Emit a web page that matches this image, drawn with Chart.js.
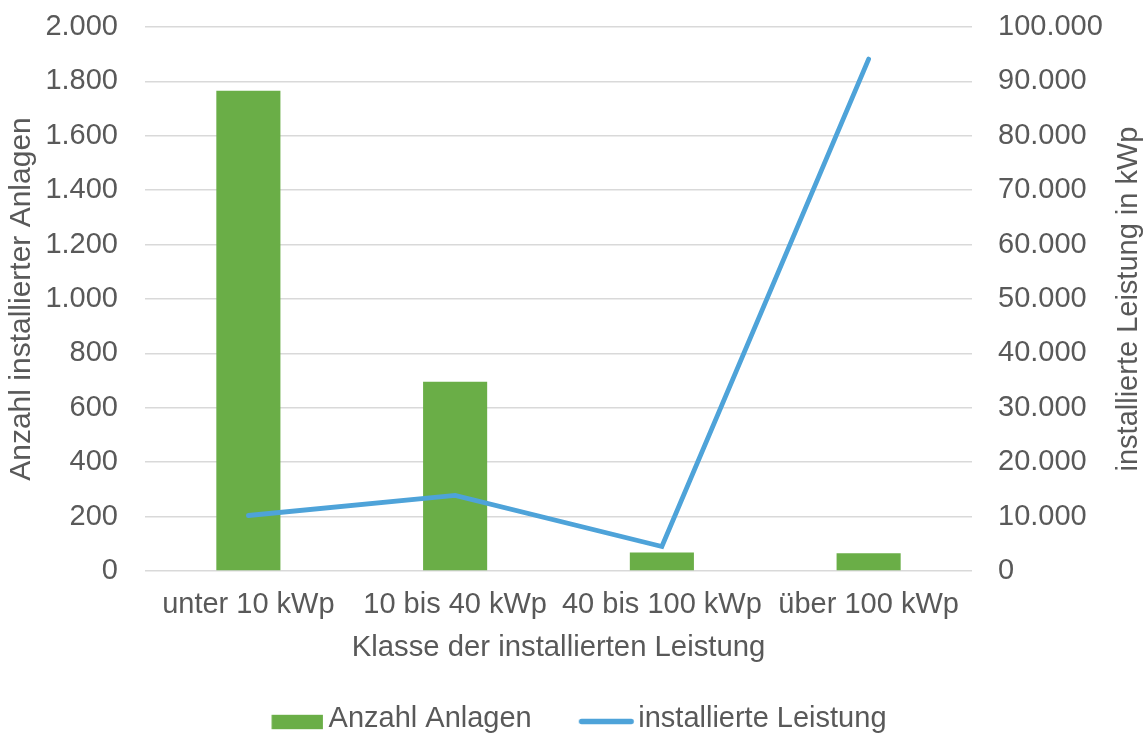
<!DOCTYPE html>
<html>
<head>
<meta charset="utf-8">
<script src="https://cdn.jsdelivr.net/npm/chart.js@4/dist/chart.umd.min.js"></script>
<style>
  html, body { margin: 0; padding: 0; background: #ffffff; }
  #wrap { width: 1147px; height: 734px; position: relative; }
</style>
</head>
<body>
<div id="wrap"><canvas id="c" width="1147" height="734"></canvas></div>
<script>
const categories = ['unter 10 kWp', '10 bis 40 kWp', '40 bis 100 kWp', 'über 100 kWp'];
const anzahlAnlagen = [1766, 696, 68, 65];
const installierteLeistung = [10200, 13900, 4500, 94100];
const leftTicks = [0, 200, 400, 600, 800, 1000, 1200, 1400, 1600, 1800, 2000];
const rightTicks = [0, 10000, 20000, 30000, 40000, 50000, 60000, 70000, 80000, 90000, 100000];

const TEXT = '#595959';
const FONT = 'Liberation Sans';
const FS = 29;
const GREEN = '#6aae47';
const BLUE = '#4ea3d9';

function fmt(v) {
  return String(Math.round(v)).replace(/\B(?=(\d{3})+(?!\d))/g, '.');
}

// legend symbols (drawn by Chart.js legend as point styles)
function barSymbol() {
  const c = document.createElement('canvas');
  c.width = 58; c.height = 22;
  const g = c.getContext('2d');
  g.fillStyle = GREEN;
  g.fillRect(6.5, 6.8, 51.4, 14.4);
  return c;
}
function lineSymbol() {
  const c = document.createElement('canvas');
  c.width = 62; c.height = 22;
  const g = c.getContext('2d');
  g.strokeStyle = BLUE;
  g.lineWidth = 5.3;
  g.lineCap = 'round';
  g.beginPath();
  g.moveTo(6.1 + 2.65, 13.5);
  g.lineTo(61.1 - 2.65, 13.5);
  g.stroke();
  return c;
}

const rightTitlePlugin = {
  id: 'rightTitle',
  afterDraw(chart) {
    const ctx = chart.ctx;
    const area = chart.chartArea;
    ctx.save();
    ctx.translate(1129, (area.top + area.bottom) / 2);
    ctx.rotate(-Math.PI / 2);
    ctx.font = FS + 'px "' + FONT + '"';
    ctx.fillStyle = TEXT;
    ctx.textAlign = 'center';
    ctx.textBaseline = 'middle';
    ctx.fillText('installierte Leistung in kWp', 0, 0);
    ctx.restore();
  }
};

function noVPad(scale) {
  scale.paddingTop = 0;
  scale.paddingBottom = 0;
}

new Chart(document.getElementById('c'), {
  data: {
    labels: categories,
    datasets: [
      {
        type: 'bar',
        label: 'Anzahl Anlagen',
        data: anzahlAnlagen,
        backgroundColor: GREEN,
        borderWidth: 0,
        yAxisID: 'y',
        order: 1,
        categoryPercentage: 1,
        barPercentage: 0.31,
        pointStyle: barSymbol()
      },
      {
        type: 'line',
        label: 'installierte Leistung',
        data: installierteLeistung,
        borderColor: BLUE,
        backgroundColor: BLUE,
        borderWidth: 4.8,
        pointRadius: 0,
        pointHoverRadius: 0,
        borderJoinStyle: 'miter',
        borderCapStyle: 'round',
        tension: 0,
        yAxisID: 'y1',
        order: 0,
        pointStyle: lineSymbol()
      }
    ]
  },
  options: {
    responsive: false,
    animation: false,
    devicePixelRatio: 1,
    layout: { padding: { top: 27, left: 0, right: -13.6, bottom: -9.5 } },
    plugins: {
      tooltip: { enabled: false },
      legend: {
        position: 'bottom',
        labels: {
          usePointStyle: true,
          pointStyleWidth: 40,
          boxWidth: 40,
          boxHeight: 16,
          padding: 52,
          color: TEXT,
          font: { family: FONT, size: FS },
          sort: (a, b) => a.datasetIndex - b.datasetIndex
        }
      }
    },
    scales: {
      x: {
        grid: { display: false },
        border: { display: false },
        ticks: { color: TEXT, font: { family: FONT, size: FS }, padding: 8.5, maxRotation: 0, autoSkip: false },
        title: { display: true, text: 'Klasse der installierten Leistung', color: TEXT, font: { family: FONT, size: 29.3 }, padding: { top: 4, bottom: -12.5 } },
        afterFit(scale) { scale.height = 81.5; scale.paddingLeft = 0; scale.paddingRight = 0; }
      },
      y: {
        position: 'left',
        min: 0,
        max: 2000,
        afterBuildTicks(scale) { scale.ticks = leftTicks.map(v => ({ value: v })); },
        grid: { color: '#d9d9d9', lineWidth: 1.5, drawTicks: false },
        border: { display: false },
        ticks: { color: TEXT, font: { family: FONT, size: FS }, padding: 27, callback: v => fmt(v) },
        title: { display: true, text: 'Anzahl installierter Anlagen', color: TEXT, font: { family: FONT, size: 30 }, padding: { top: 4, bottom: 4 } },
        afterFit(scale) { scale.width = 145; noVPad(scale); }
      },
      y1: {
        position: 'right',
        min: 0,
        max: 100000,
        afterBuildTicks(scale) { scale.ticks = rightTicks.map(v => ({ value: v })); },
        grid: { drawOnChartArea: false, drawTicks: false },
        border: { display: false },
        ticks: { color: TEXT, font: { family: FONT, size: FS }, padding: 26, callback: v => fmt(v) },
        afterFit(scale) { scale.width = 1147 + 13.6 - 972; noVPad(scale); }
      }
    }
  },
  plugins: [rightTitlePlugin]
});
</script>
</body>
</html>
